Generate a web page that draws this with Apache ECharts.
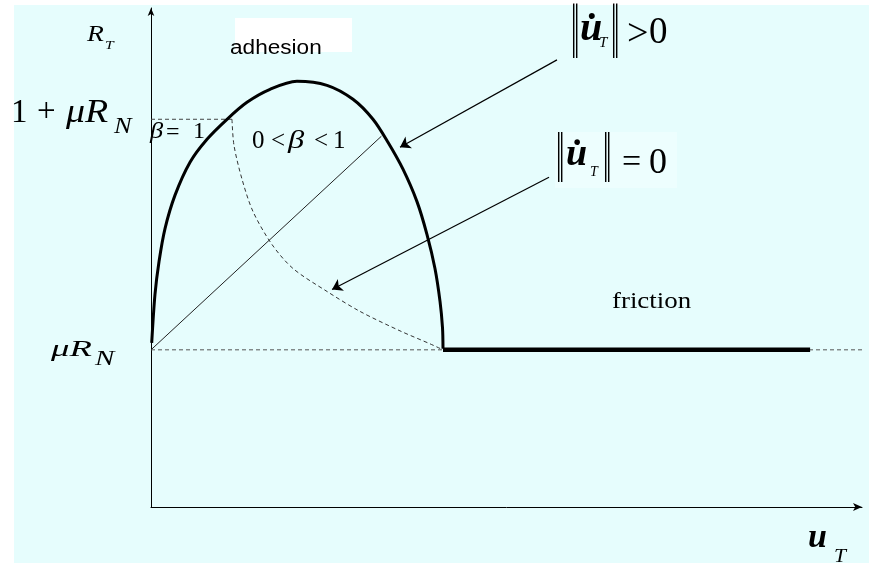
<!DOCTYPE html>
<html>
<head>
<meta charset="utf-8">
<script src="https://cdn.jsdelivr.net/npm/echarts@6/dist/echarts.min.js"></script>
<style>
html,body{margin:0;padding:0;background:#ffffff;}
#main{width:869px;height:565px;}
</style>
</head>
<body>
<div id="main"></div>
<script>
// ---- data (axis units: u_T horizontal, R_T vertical) ----
const muRN = 3.15;            // level of mu*R_N
const onePlusMuRN = 7.77;     // level of 1 + mu*R_N
const curveX = [0.01, 0.056, 0.113, 0.197, 0.338, 0.549, 0.788, 1.069, 1.350, 1.674, 2.053, 2.475, 2.841, 3.122, 3.333, 3.544, 3.741, 3.882, 3.994, 4.065, 4.100, 4.107];
const curveY = [3.29, 4.26, 4.92, 5.58, 6.25, 6.91, 7.37, 7.77, 8.11, 8.37, 8.53, 8.45, 8.17, 7.77, 7.31, 6.77, 6.12, 5.46, 4.78, 4.12, 3.59, 3.17];
const arcX = [1.139, 1.167, 1.280, 1.435, 1.702, 1.997, 2.475, 2.939, 3.502, 3.924, 4.107];
const arcY = [7.77, 7.25, 6.57, 5.92, 5.26, 4.78, 4.32, 3.92, 3.53, 3.27, 3.15];
const frictionX = [4.107, 9.27];
const rayX = [0, 3.24];
const rayY = [3.15, 7.43];
const arrowFrom = [[5.71, 8.96], [5.598, 6.61]];
const arrowTo = [[3.502, 7.21], [2.546, 4.36]];
const labelTexts = ['adhesion', 'friction'];

const zip = (xs, ys) => xs.map((x, i) => [x, ys[i]]);

const SERIF = '"Liberation Serif","DejaVu Serif",serif';
const SANS = '"Liberation Sans",Arial,sans-serif';
function fontOf(size, o) {
  return (o.italic ? 'italic ' : '') + (o.bold ? 'bold ' : '') + size + 'px ' + (o.fam || SERIF);
}
// text placed by baseline
function t(text, x, base, size, o) {
  o = o || {};
  const sy = o.sy || 1;
  return {
    type: 'text', z: -5, silent: true,
    x: x, y: base - 0.34 * size * sy, scaleX: o.sx || 1, scaleY: sy,
    style: { text: text, x: 0, y: 0, font: fontOf(size, o), fill: o.fill || '#000', verticalAlign: 'middle', align: 'left' }
  };
}
// text placed by centre line
function tc(text, x, cy, size, o) {
  o = o || {};
  return {
    type: 'text', z: -5, silent: true,
    x: x, y: cy, scaleX: o.sx || 1, scaleY: o.sy || 1,
    style: { text: text, x: 0, y: 0, font: fontOf(size, o), fill: o.fill || '#000', verticalAlign: 'middle', align: 'left' }
  };
}

const chart = echarts.init(document.getElementById('main'), null, { renderer: 'canvas' });
const lineBase = { type: 'line', symbol: 'none', silent: true, animation: false, clip: false };

chart.setOption({
  animation: false,
  backgroundColor: '#ffffff',
  grid: { left: 151, right: 7, top: 8, bottom: 58 },
  xAxis: {
    type: 'value', min: 0, max: 10,
    axisLine: { show: true, onZero: false, symbol: ['none', 'arrow'], symbolSize: [6, 9], lineStyle: { color: '#000', width: 1 } },
    axisTick: { show: false }, axisLabel: { show: false }, splitLine: { show: false }
  },
  yAxis: {
    type: 'value', min: 0, max: 10,
    axisLine: { show: true, onZero: false, symbol: ['none', 'arrow'], symbolSize: [5, 8], lineStyle: { color: '#000', width: 1 } },
    axisTick: { show: false }, axisLabel: { show: false }, splitLine: { show: false }
  },
  graphic: [
    { type: 'rect', z: -10, silent: true, shape: { x: 14, y: 5, width: 855, height: 558 }, style: { fill: '#e6fdfd' } },
    { type: 'rect', z: -6, silent: true, shape: { x: 235, y: 18, width: 117, height: 34 }, style: { fill: '#ffffff' } },
    { type: 'rect', z: -6, silent: true, shape: { x: 555, y: 132, width: 122, height: 56 }, style: { fill: '#edfefe' } },
    // R_T
    t('R', 87, 43, 23, { italic: true, sx: 1.2 }),
    t('T', 105, 50, 13, { italic: true, sx: 1.2 }),
    // adhesion
    t(labelTexts[0], 230, 55, 20, { fam: SANS, sx: 1.13 }),
    // 1 + mu R_N
    t('1', 11, 125, 33),
    t('+', 37, 124, 33),
    t('μR', 66, 125, 33, { italic: true, sx: 1.15 }),
    t('N', 114, 135, 24, { italic: true, sx: 1.1 }),
    // beta = 1
    t('β', 150, 140, 24, { italic: true, sx: 1.1 }),
    t('=', 166, 141, 24),
    t('1', 193, 140, 24),
    // 0 < beta < 1
    t('0', 252, 150, 25),
    t('<', 271, 150, 25),
    t('β', 288, 150, 25, { italic: true, sx: 1.3 }),
    t('<', 314, 150, 25),
    t('1', 333, 150, 25),
    // ||u_T|| > 0
    tc('‖', 571, 38, 30, { sy: 2.6 }),
    t('u̇', 580, 43, 40, { italic: true, bold: true }),
    t('T', 599, 48, 15, { italic: true }),
    tc('‖', 611, 38, 30, { sy: 2.6 }),
    t('>', 627, 48, 38),
    t('0', 649, 46, 37),
    // ||u_T|| = 0
    tc('‖', 556, 163, 30, { sy: 2.4 }),
    t('u̇', 566, 168, 38, { italic: true, bold: true }),
    t('T', 590, 177, 14, { italic: true }),
    tc('‖', 603, 163, 30, { sy: 2.4 }),
    t('=', 622, 175, 34),
    t('0', 649, 176, 36),
    // friction
    t(labelTexts[1], 612, 310, 24, { sx: 1.12 }),
    // mu R_N
    t('μR', 51, 358, 23, { italic: true, sx: 1.6 }),
    t('N', 95, 367, 20, { italic: true, sx: 1.45 }),
    // u_T
    t('u', 808, 550, 34, { italic: true, bold: true }),
    t('T', 834, 563, 18, { italic: true, sx: 1.2 })
  ],
  series: [
    Object.assign({}, lineBase, { data: [[0, muRN], [10.1, muRN]], lineStyle: { color: '#555', width: 1, type: [4, 3] } }),
    Object.assign({}, lineBase, { data: [[0, onePlusMuRN], [arcX[0], onePlusMuRN]], lineStyle: { color: '#444', width: 1, type: [4, 3] } }),
    Object.assign({}, lineBase, { data: zip(arcX, arcY), smooth: 0.3, lineStyle: { color: '#333', width: 1, type: [4, 3] } }),
    Object.assign({}, lineBase, { data: zip(rayX, rayY), lineStyle: { color: '#222', width: 1 } }),
    Object.assign({}, lineBase, { data: zip(curveX, curveY), smooth: 0.3, lineStyle: { color: '#000', width: 3 } }),
    Object.assign({}, lineBase, { data: [[frictionX[0], muRN], [frictionX[1], muRN]], lineStyle: { color: '#000', width: 4.5 } }),
    {
      type: 'lines', coordinateSystem: 'cartesian2d', silent: true, animation: false,
      symbol: ['none', 'arrow'], symbolSize: 10,
      lineStyle: { color: '#000', width: 1.2, opacity: 1 },
      data: arrowFrom.map((p, i) => ({ coords: [p, arrowTo[i]] }))
    }
  ]
});
</script>
</body>
</html>
